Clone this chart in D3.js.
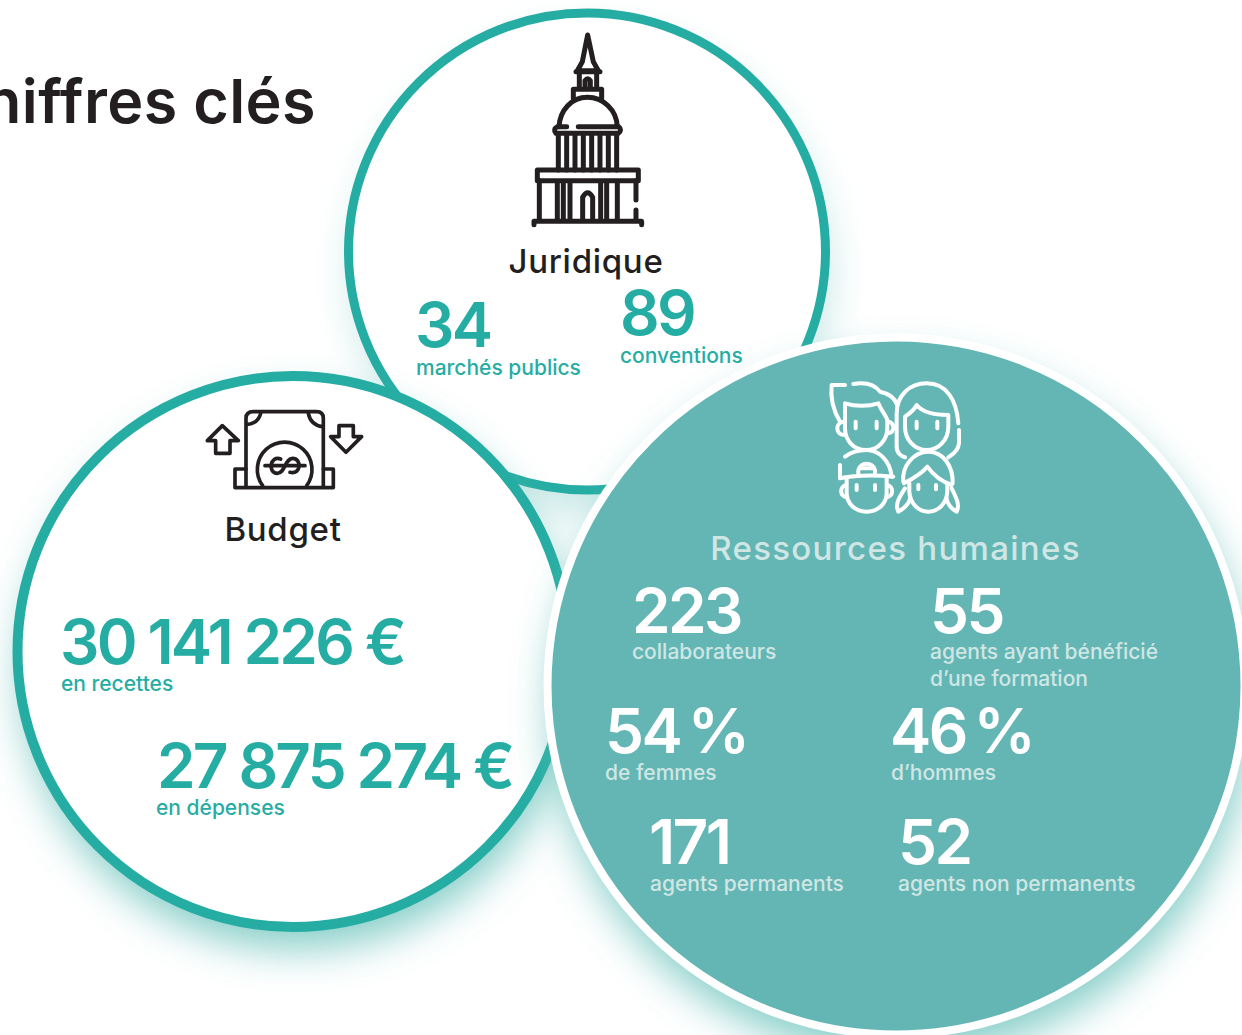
<!DOCTYPE html>
<html>
<head>
<meta charset="utf-8">
<script src="https://cdn.jsdelivr.net/npm/d3@7"></script>
<style>
html, body { margin: 0; padding: 0; background: #fff; overflow: hidden; }
svg { display: block; }
text { font-family: Inter, "Noto Sans", sans-serif; }
</style>
</head>
<body>
<div id="chart"></div>
<script>
var TEAL = "#26ada3";
var DARK = "#231f20";
var RH_FILL = "#64b6b5";
var RH_LABEL = "#cfe6e4";

// what the picture says
var title = "Chiffres clés";
var headings = ["Juridique", "Budget", "Ressources humaines"];
var values = ["34", "89", "30\u2005141\u2005226\u2005€", "27\u2005875\u2005274\u2005€", "223", "55", "54\u2009%", "46\u2009%", "171", "52"];
var labels = [["marchés publics"], ["conventions"], ["en recettes"], ["en dépenses"], ["collaborateurs"], ["agents ayant bénéficié", "d’une formation"], ["de femmes"], ["d’hommes"], ["agents permanents"], ["agents non permanents"]];

// where it goes
var valuePos = [[415, 347], [620, 335], [60, 664], [157, 788], [632, 633], [930, 633], [605, 753], [890, 753], [649, 864], [898, 864]];
var labelPos = [[416, 374.5], [620, 362.5], [61, 690.5], [156, 814.5], [632, 658.5], [930, 658.5], [605, 779.5], [891, 779.5], [650, 890.5], [898, 890.5]];
var onRh = [false, false, false, false, true, true, true, true, true, true];
var valueSpacing = [-2.6, -2.6, -2.8, -2.8, -2.6, -2.6, -2.6, -2.6, -2.6, -2.6];

var bubbles = [
    {cx: 587, cy: 251.5, r: 238.5, fill: "#fff", stroke: TEAL, sw: 9, glow: 0.35},
    {cx: 293, cy: 651.5, r: 275.5, fill: "#fff", stroke: TEAL, sw: 10, glow: 0.75},
    {cx: 896, cy: 686, r: 348.5, fill: RH_FILL, stroke: "#fff", sw: 8, glow: 0.75}
];
var headingPos = [[586, 273, DARK, 0.7], [283, 541, DARK, 0.7], [895.5, 560, RH_LABEL, 1.3]];

var svg = d3.select("#chart").append("svg")
    .attr("width", 1242)
    .attr("height", 1035);

var defs = svg.append("defs");
var glow = defs.append("filter").attr("id", "glow")
    .attr("x", "-20%").attr("y", "-20%").attr("width", "140%").attr("height", "140%");
glow.append("feGaussianBlur").attr("stdDeviation", 20);

svg.append("text")
    .attr("x", 316)
    .attr("y", 123)
    .attr("text-anchor", "end")
    .style("font-size", "61px")
    .style("font-weight", 600)
    .style("letter-spacing", "0.4px")
    .style("fill", DARK)
    .text(title);

var bubble = svg.selectAll(".bubble")
    .data(bubbles)
    .enter().append("g")
    .attr("class", "bubble");

bubble.append("circle")
    .attr("cx", function(d) { return d.cx + 4; })
    .attr("cy", function(d) { return d.cy + 22; })
    .attr("r", function(d) { return d.r; })
    .style("fill", "#5dbdb6")
    .style("opacity", function(d) { return d.glow; })
    .attr("filter", "url(#glow)");

bubble.append("circle")
    .attr("cx", function(d) { return d.cx; })
    .attr("cy", function(d) { return d.cy; })
    .attr("r", function(d) { return d.r; })
    .style("fill", function(d) { return d.fill; })
    .style("stroke", function(d) { return d.stroke; })
    .style("stroke-width", function(d) { return d.sw; });

svg.selectAll(".heading")
    .data(headings)
    .enter().append("text")
    .attr("class", "heading")
    .attr("x", function(d, i) { return headingPos[i][0]; })
    .attr("y", function(d, i) { return headingPos[i][1]; })
    .attr("text-anchor", "middle")
    .style("font-size", "33px")
    .style("font-weight", 500)
    .style("letter-spacing", function(d, i) { return headingPos[i][3] + "px"; })
    .style("fill", function(d, i) { return headingPos[i][2]; })
    .text(function(d) { return d; });

svg.selectAll(".value")
    .data(values)
    .enter().append("text")
    .attr("class", "value")
    .attr("x", function(d, i) { return valuePos[i][0]; })
    .attr("y", function(d, i) { return valuePos[i][1]; })
    .style("font-size", "62px")
    .style("font-weight", 600)
    .style("letter-spacing", function(d, i) { return valueSpacing[i] + "px"; })
    .style("fill", function(d, i) { return onRh[i] ? "#fff" : TEAL; })
    .text(function(d) { return d; });

var label = svg.selectAll(".label")
    .data(labels)
    .enter().append("text")
    .attr("class", "label")
    .attr("y", function(d, i) { return labelPos[i][1]; })
    .style("font-size", "21px")
    .style("font-weight", 500)
    .style("fill", function(d, i) { return onRh[i] ? RH_LABEL : TEAL; });

label.selectAll("tspan")
    .data(function(d, i) { return d.map(function(t) { return {t: t, x: labelPos[i][0]}; }); })
    .enter().append("tspan")
    .attr("x", function(d) { return d.x; })
    .attr("dy", function(d, i) { return i ? 27 : 0; })
    .text(function(d) { return d.t; });

// icons, traced at 3x
function icon(x, y, color, sw, paths) {
    svg.append("g")
        .attr("transform", "translate(" + x + "," + y + ") scale(0.3333)")
        .selectAll("path")
        .data(paths)
        .enter().append("path")
        .attr("d", function(d) { return d; })
        .style("fill", "none")
        .style("stroke", color)
        .style("stroke-width", sw)
        .style("stroke-linecap", "round")
        .style("stroke-linejoin", "round");
}

icon(500, 20, DARK, 15, [
    "M263 45 L247 125 L232 152 H295 L280 125 Z",
    "M228 155 H300",
    "M238 155 V205 M290 155 V205",
    "M255 200 V182 Q263 170 271 182 V200",
    "M220 235 V208 H305 V235",
    "M177 320 C180 270 215 232 262 232 C310 232 350 270 352 320",
    "M200 320 H172 Q158 328 168 340 H355 Q368 330 356 320 H235",
    "M175 345 V450 M200 345 V450 M225 345 V450 M250 345 V450 M275 345 V450 M300 345 V450 M325 345 V450 M350 345 V450",
    "M112 450 H415 V482 H112 Z",
    "M118 482 V600 M172 490 V600 M190 490 V600 M210 490 V600 M302 490 V600 M320 490 V600 M352 490 V600",
    "M248 600 V532 Q263 505 278 532 V600",
    "M408 482 V540 M408 570 V600",
    "M102 614 V604 H425 V614"
]);

icon(190, 395, DARK, 11, [
    "M168 275 V70 Q168 50 190 50 H380 Q400 50 400 70 V275",
    "M168 222 H135 V278 H430 V222 H400",
    "M212 55 Q205 85 172 88",
    "M355 55 Q362 90 398 95",
    "M218 272 A82 82 0 1 1 350 272",
    "M225 212 H345",
    "M272 192 C240 180 232 235 262 235 C285 235 285 190 308 190 C335 190 335 240 300 232",
    "M97 92 L52 137 H77 V175 H120 V137 H145 Z",
    "M447 92 H490 V125 H515 L468 172 L422 125 H447 Z"
]);

icon(810, 370, "#fff", 12, [
    "M105 45 H65 C60 90 75 130 90 155",
    "M130 42 C170 35 195 45 210 65 C235 70 255 85 262 105",
    "M105 100 C135 110 175 110 205 100 C215 125 228 135 232 150 V175 C232 210 205 240 168 240 C130 240 105 210 105 175 Z",
    "M100 155 C75 160 75 195 105 195",
    "M235 155 C255 160 255 185 235 190",
    "M137 155 V175 M200 155 V175",
    "M260 230 V130 C260 75 300 40 350 40 C410 40 440 90 445 160",
    "M447 180 V220 C445 245 425 255 415 262",
    "M260 230 C260 250 275 260 285 262",
    "M285 140 C300 130 315 115 320 105 C340 130 380 135 415 135 V170 C415 210 385 240 350 240 C315 240 285 210 285 170 Z",
    "M320 155 V175 M382 155 V175",
    "M90 320 V285 M105 260 C125 245 145 240 170 240 C205 240 240 270 245 320",
    "M90 325 C140 315 200 315 250 320",
    "M145 312 V300 C150 275 190 275 195 300 V312",
    "M150 295 H190",
    "M110 325 V370 C110 400 135 425 170 425 C205 425 230 400 230 370 V325",
    "M108 345 C88 350 88 380 112 382",
    "M232 345 C252 350 252 380 228 382",
    "M140 345 V360 M195 345 V360",
    "M280 335 C275 290 310 245 355 245 C400 245 430 290 428 340",
    "M282 340 C310 325 340 305 352 290 C370 315 395 335 425 345",
    "M298 340 V365 C300 400 325 425 355 425 C385 425 410 400 412 365 V340",
    "M285 355 C265 385 255 405 265 425 C285 415 300 395 300 385",
    "M425 355 C440 385 450 405 440 425 C420 415 410 395 410 385",
    "M325 345 V358 M378 345 V358"
]);
</script>
</body>
</html>
